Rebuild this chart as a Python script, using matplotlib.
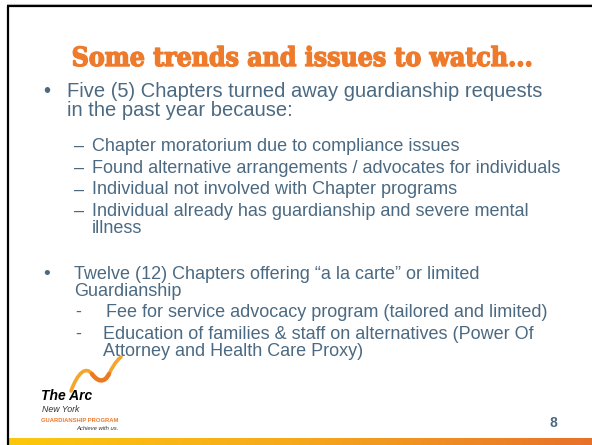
import numpy as np
import matplotlib.pyplot as plt
from matplotlib import font_manager
from matplotlib import patheffects
from matplotlib.colors import LinearSegmentedColormap
from matplotlib.path import Path
from matplotlib.patches import PathPatch

# slide text
title = 'Some trends and issues to watch...'
bullet1 = ['Five (5) Chapters turned away guardianship requests',
           'in the past year because:']
reasons = [['Chapter moratorium due to compliance issues'],
           ['Found alternative arrangements / advocates for individuals'],
           ['Individual not involved with Chapter programs'],
           ['Individual already has guardianship and severe mental', 'illness']]
bullet2 = ['Twelve (12) Chapters offering \u201ca la carte\u201d or limited',
           'Guardianship']
offers = [['Fee for service advocacy program (tailored and limited)'],
          ['Education of families & staff on alternatives (Power Of',
           'Attorney and Health Care Proxy)']]
logo_lines = ['The Arc', 'New York', 'GUARDIANSHIP PROGRAM', 'Achieve with us.']
page_num = '8'

body_color = '#4B6A82'
orange = '#EE7A2C'
sans = 'Liberation Sans'

# condensed bold serif for the title if it is installed
have_cond = any(f.name == 'DejaVu Serif' and f.stretch == 'condensed'
                for f in font_manager.fontManager.ttflist)

fig = plt.figure(figsize=(5.92, 4.45), dpi=100)
ax = fig.add_axes([0, 0, 1, 1])
ax.set_xlim(0, 592)
ax.set_ylim(445, 0)
ax.axis('off')

# frame lines and bottom bar
ax.plot([7, 592], [4, 4], color='#C8C8C8', lw=0.8)
ax.plot([7, 592], [6.2, 6.2], color='black', lw=1.6, solid_capstyle='butt')
ax.plot([7.8, 7.8], [5.5, 445], color='black', lw=1.6, solid_capstyle='butt')
bar = LinearSegmentedColormap.from_list('bar', ['#FCC80C', '#F6A81C', '#E8712A'])
ax.imshow(np.linspace(0, 1, 256)[None, :], extent=[9, 592, 445, 438],
          cmap=bar, aspect='auto', zorder=1)

# title
heavy = [patheffects.withStroke(linewidth=1.0, foreground=orange)]
if have_cond:
    ax.text(302, 66, title, ha='center', va='baseline', color=orange,
            family='DejaVu Serif', fontstretch='condensed', fontweight='bold',
            fontsize=19, path_effects=heavy)
else:
    ax.text(302, 66, title, ha='center', va='baseline', color=orange,
            family='Liberation Serif', fontweight='bold', fontsize=20, path_effects=heavy)

# first bullet block
ax.text(43, 97, '\u2022', color=body_color, family=sans, fontsize=14.5, va='baseline')
for line, y in zip(bullet1, [97, 116]):
    ax.text(67, y, line, color=body_color, family=sans, fontsize=14.5, va='baseline')

y = 151
for item in reasons:
    ax.text(74, y, '\u2013', color=body_color, family=sans, fontsize=13, va='baseline')
    for k, line in enumerate(item):
        ax.text(92, y + 17 * k, line, color=body_color, family=sans, fontsize=13, va='baseline')
    y += 21.7

# second bullet block
ax.text(43, 279, '\u2022', color=body_color, family=sans, fontsize=14, va='baseline')
for line, y in zip(bullet2, [279, 296.5]):
    ax.text(74, y, line, color=body_color, family=sans, fontsize=13, va='baseline')

y = 317
for j, item in enumerate(offers):
    ax.text(75, y, '-', color=body_color, family=sans, fontsize=13, va='baseline')
    x0 = 106 if j == 0 else 103
    for k, line in enumerate(item):
        ax.text(x0, y + 16.5 * k, line, color=body_color, family=sans, fontsize=13, va='baseline')
    y += 22

# logo swoosh
verts = [(71, 391), (78, 372), (86, 366), (92, 374),
         (97, 381), (104, 384), (109, 374),
         (112, 368), (115, 362), (121, 357)]
codes = [Path.MOVETO] + [Path.CURVE4] * 9
ax.add_patch(PathPatch(Path(verts, codes), fill=False, edgecolor='#F4A52A',
                       lw=2.6, capstyle='round'))
ax.add_patch(PathPatch(Path(verts[3:7], [Path.MOVETO] + [Path.CURVE4] * 3), fill=False,
                       edgecolor='#EC7A22', lw=3.2, capstyle='round'))

# logo text
ax.text(41, 400, logo_lines[0], family=sans, fontweight='bold', style='italic',
        fontsize=10, color='black', va='baseline')
ax.text(42, 412, logo_lines[1], family=sans, style='italic', fontsize=6.3,
        color='#333333', va='baseline')
ax.text(41, 421.5, logo_lines[2], family=sans, fontweight='bold', fontsize=4.2,
        color=orange, va='baseline')
ax.text(119, 430.5, logo_lines[3], family=sans, style='italic', fontsize=4.2,
        color='#333333', va='baseline', ha='right')

# page number
ax.text(550, 427, page_num, family=sans, fontweight='bold', fontsize=10,
        color=body_color, va='baseline')

fig.savefig('out.png', dpi=100)
